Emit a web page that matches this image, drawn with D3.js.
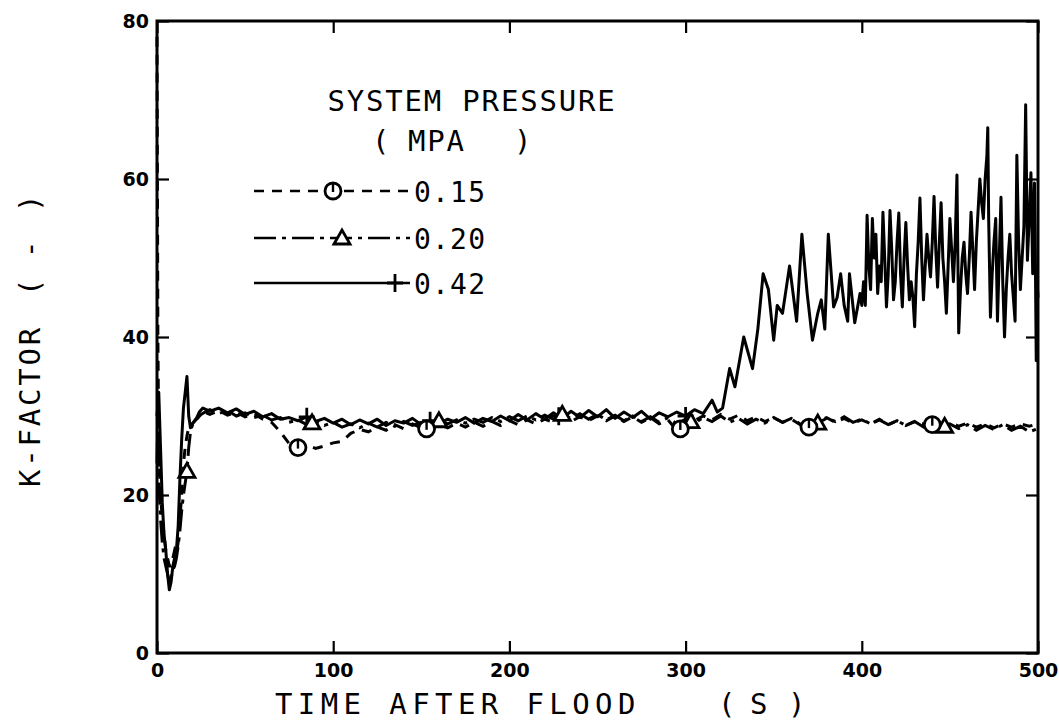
<!DOCTYPE html>
<html>
<head>
<meta charset="utf-8">
<script src="https://cdn.jsdelivr.net/npm/d3@7"></script>
<style>
  body { margin: 0; background: #fff; }
  svg { display: block; }
  .tick text { font-family: "DejaVu Sans", sans-serif; font-weight: bold; font-size: 19px; fill: #000; }
  .plotter { font-family: "DejaVu Sans Mono", monospace; fill: #000; }
</style>
</head>
<body>
<div id="chart"></div>
<script>
// ---- data: [time (s), K-factor] ----
const xTicks = [0, 100, 200, 300, 400, 500];
const yTicks = [0, 20, 40, 60, 80];

const series015 = [
  [0, 78], [0.5, 40], [1, 26], [2, 20], [3, 17], [4, 15], [5, 13], [6, 12], [7, 11], [8, 11],
  [9, 12], [10, 13], [11, 12.5], [12, 14], [13, 17], [14, 20], [15, 24], [16, 26], [17, 27.5],
  [18, 28.5], [20, 29], [22, 29.6], [25, 30], [28, 30.4],
  [30, 30.2], [35, 30.7], [40, 30.1], [45, 30.5], [50, 29.9], [55, 30.3], [60, 29.6], [65, 29.2],
  [70, 28.0], [75, 26.5], [80, 26.0], [85, 26.3], [90, 25.9], [95, 26.2], [100, 26.6], [105, 26.8],
  [110, 27.8], [115, 28.3], [120, 28.0], [125, 28.6], [130, 28.2], [135, 28.9], [140, 28.4],
  [145, 29.0], [150, 28.5], [155, 28.3], [160, 28.9], [165, 28.5], [170, 29.1], [175, 28.6],
  [180, 29.2], [185, 28.7], [190, 29.3], [195, 28.8], [200, 29.4], [205, 28.9], [210, 29.5],
  [215, 29.0], [220, 29.6], [225, 29.2], [230, 29.7], [235, 29.3], [240, 29.9], [245, 29.4],
  [250, 30.0], [255, 29.4], [260, 30.0], [265, 29.3], [270, 29.9], [275, 29.2], [280, 29.8],
  [285, 29.0], [290, 29.5], [295, 28.2], [300, 28.6], [305, 29.4], [310, 30.0], [315, 29.5],
  [320, 30.2], [325, 29.6], [330, 30.1], [335, 29.4], [340, 29.9], [345, 29.3], [350, 29.8],
  [355, 29.2], [360, 29.6], [365, 28.9], [370, 28.6], [375, 29.3], [380, 29.8], [385, 29.2],
  [390, 29.7], [395, 29.1], [400, 29.5], [405, 29.0], [410, 29.6], [415, 28.9], [420, 29.4],
  [425, 28.8], [430, 29.3], [435, 29.0], [440, 28.9], [445, 28.6], [450, 29.2], [455, 28.7],
  [460, 29.1], [465, 28.6], [470, 29.0], [475, 28.5], [480, 29.0], [485, 28.6], [490, 29.0],
  [495, 28.7], [500, 29.0]
];

const series020 = [
  [0, 24], [0.5, 30], [1, 22], [2, 17], [3, 14], [4, 12], [5, 11], [6, 10], [7, 9], [8, 9.5],
  [9, 10.5], [10, 11], [11, 12], [12, 13.5], [13, 15.5], [14, 18], [15, 20], [16, 21.5], [17, 23],
  [18, 26], [19, 28], [20, 28.8], [22, 29.5], [25, 30.2], [28, 30.6],
  [30, 30.8], [35, 30.3], [40, 30.7], [45, 30.0], [50, 30.4], [55, 29.8], [60, 30.1], [65, 29.5],
  [70, 29.8], [75, 29.2], [80, 29.5], [85, 28.9], [90, 29.3], [95, 28.8], [100, 29.2], [105, 28.6],
  [110, 29.0], [115, 28.5], [120, 29.1], [125, 28.6], [130, 29.2], [135, 28.7], [140, 29.3],
  [145, 28.8], [150, 29.2], [155, 28.9], [160, 29.4], [165, 29.0], [170, 29.5], [175, 29.1],
  [180, 29.6], [185, 29.2], [190, 29.8], [195, 29.3], [200, 29.9], [205, 29.4], [210, 30.0],
  [215, 29.5], [220, 30.1], [225, 29.6], [230, 30.2], [235, 29.7], [240, 30.3], [245, 29.6],
  [250, 30.2], [255, 29.5], [260, 30.1], [265, 29.4], [270, 30.0], [275, 29.3], [280, 29.9],
  [285, 29.2], [290, 29.8], [295, 29.0], [300, 29.6], [305, 29.1], [310, 29.8], [315, 29.3],
  [320, 30.0], [325, 29.2], [330, 29.7], [335, 29.0], [340, 29.6], [345, 29.1], [350, 29.8],
  [355, 29.2], [360, 29.7], [365, 29.0], [370, 29.5], [375, 29.1], [380, 29.7], [385, 29.3],
  [390, 29.9], [395, 29.2], [400, 29.6], [405, 29.0], [410, 29.5], [415, 28.9], [420, 29.4],
  [425, 28.8], [430, 29.3], [435, 28.6], [440, 29.4], [445, 28.5], [450, 29.0], [455, 28.4],
  [460, 28.9], [465, 28.2], [470, 28.8], [475, 28.3], [480, 28.9], [485, 28.2], [490, 28.7],
  [495, 28.0], [500, 28.4]
];

const series042 = [
  [0, 30], [1, 33], [2, 26], [3, 19], [4, 15], [5, 13], [6, 10], [7, 8], [8, 9], [9, 11],
  [10, 12], [11, 13], [12, 16], [13, 22], [14, 27], [15, 31], [16, 33], [17, 35], [18, 30],
  [19, 28.5], [20, 29], [22, 29.5], [24, 30.5], [26, 31], [28, 30.8],
  [30, 30.6], [35, 31], [40, 30.4], [45, 30.9], [50, 30.2], [55, 30.6], [60, 29.9], [65, 30.3],
  [70, 29.6], [75, 29.8], [80, 29.4], [85, 29.9], [90, 29.3], [95, 29.7], [100, 29.1], [105, 29.6],
  [110, 28.9], [115, 29.5], [120, 29.0], [125, 29.6], [130, 28.8], [135, 29.4], [140, 29.1],
  [145, 29.7], [150, 28.9], [155, 29.4], [160, 29.0], [165, 29.6], [170, 29.2], [175, 29.8],
  [180, 29.1], [185, 29.7], [190, 29.3], [195, 30.0], [200, 29.4], [205, 30.2], [210, 29.5],
  [215, 30.3], [220, 29.6], [225, 30.4], [230, 29.7], [235, 30.6], [240, 29.8], [245, 30.7],
  [250, 29.9], [255, 30.8], [260, 29.7], [265, 30.5], [270, 29.8], [275, 30.6], [280, 29.6],
  [285, 30.4], [290, 29.9], [295, 30.5], [300, 30.0], [305, 30.8], [310, 30.3], [315, 32],
  [318, 30.5], [321, 31],
  [325, 36], [328, 33.7], [333, 40], [338, 36], [341, 41], [344, 48], [347, 46], [350, 39.6],
  [352, 44], [355, 43], [357, 46], [359, 49], [363, 42], [366, 53], [369, 45.5], [372, 39.6],
  [375, 43], [377, 44.7], [379, 41], [381, 53], [384, 43.8], [386, 45], [388, 48], [390, 44],
  [392, 42], [393, 48], [396, 41.8], [399, 45.5],
  [400, 44], [401, 47], [402, 44], [403, 55.4], [404, 49], [405, 46], [406, 55], [407, 50],
  [408, 53], [409, 45.5], [410, 49], [411, 47], [412, 55.8], [413, 50], [414, 43.8], [415, 48],
  [416, 56], [417, 51], [418, 44.7], [419, 47], [420, 52], [421, 55.7], [422, 48], [423, 43.8],
  [424, 50], [425, 54.5], [426, 49], [427, 44.7], [428, 47], [429, 45], [430, 41.3], [431, 48],
  [432, 52], [433, 57.6], [434, 50], [435, 44.7], [436, 49], [437, 53], [438, 50], [439, 47.6],
  [440, 52], [441, 57.8], [442, 51], [443, 46.3], [444, 52], [445, 57], [446, 50], [447, 47],
  [448, 43], [449, 49], [450, 55], [451, 51], [452, 47], [453, 52], [454, 60.5], [455, 40.5],
  [456, 46], [457, 50], [458, 52], [459, 48], [460, 45.5], [461, 50], [462, 55.8], [463, 51],
  [464, 46], [465, 52], [466, 56], [467, 60], [468, 57], [469, 55], [470, 60], [471, 63],
  [471.5, 66.5], [472, 55], [473, 42.5], [474, 48], [475, 52], [476, 55], [477, 42], [478, 50],
  [479, 57.7], [480, 47], [481, 40], [482, 46], [483, 50], [484, 53], [485, 48], [486, 45],
  [487, 42], [488, 63], [489, 52], [490, 46], [491, 50], [492, 54], [493, 69.4], [494, 49.7],
  [495, 55], [496, 60.8], [497, 48], [498, 59.5], [498.5, 50], [499, 37], [499.5, 47], [500, 45]
];

const markTimes015 = [80, 153, 297, 370, 440];
const markTimes020 = [17, 88, 160, 230, 303, 375, 447];
const markTimes042 = [85, 155, 228, 300];

const legendRows = [
  { label: '0.15', dash: '10,8', marker: 'circle' },
  { label: '0.20', dash: '22,6,4,6', marker: 'triangle' },
  { label: '0.42', dash: null, marker: 'plus' }
];

// ---- layout ----
const width = 1059, height = 721;
const x = d3.scaleLinear().domain([0, 500]).range([157, 1038]);
const y = d3.scaleLinear().domain([0, 80]).range([653, 21]);

const svg = d3.select('#chart').append('svg')
  .attr('width', width)
  .attr('height', height);

// inward ticks on all four sides
svg.append('g')
  .attr('transform', `translate(0,${y(0)})`)
  .call(d3.axisBottom(x).tickValues(xTicks).tickSizeInner(-12).tickSizeOuter(0).tickPadding(11))
  .call(g => g.select('.domain').remove());

svg.append('g')
  .attr('transform', `translate(0,${y(80)})`)
  .call(d3.axisTop(x).tickValues(xTicks).tickSizeInner(-12).tickSizeOuter(0).tickFormat(''))
  .call(g => g.select('.domain').remove());

svg.append('g')
  .attr('transform', `translate(${x(0)},0)`)
  .call(d3.axisLeft(y).tickValues(yTicks).tickSizeInner(-12).tickSizeOuter(0).tickPadding(8))
  .call(g => g.select('.domain').remove());

svg.append('g')
  .attr('transform', `translate(${x(500)},0)`)
  .call(d3.axisRight(y).tickValues(yTicks).tickSizeInner(-12).tickSizeOuter(0).tickFormat(''))
  .call(g => g.select('.domain').remove());

svg.selectAll('.tick line').attr('stroke', '#000').attr('stroke-width', 2.2);

svg.append('rect')
  .attr('x', x(0)).attr('y', y(80))
  .attr('width', x(500) - x(0)).attr('height', y(0) - y(80))
  .attr('fill', 'none').attr('stroke', '#000').attr('stroke-width', 3);

// ---- curves ----
const line = d3.line().x(d => x(d[0])).y(d => y(d[1]));

svg.append('path').datum(series042)
  .attr('d', line).attr('fill', 'none').attr('stroke', '#000')
  .attr('stroke-width', 3).attr('stroke-linejoin', 'round');
svg.append('path').datum(series020)
  .attr('d', line).attr('fill', 'none').attr('stroke', '#000')
  .attr('stroke-width', 3).attr('stroke-dasharray', '22,6,4,6');
svg.append('path').datum(series015)
  .attr('d', line).attr('fill', 'none').attr('stroke', '#000')
  .attr('stroke-width', 3).attr('stroke-dasharray', '10,8');

function valueAt(series, t) {
  const i = d3.bisector(d => d[0]).left(series, t);
  if (i <= 0) return series[0][1];
  if (i >= series.length) return series[series.length - 1][1];
  const a = series[i - 1], b = series[i];
  return a[1] + (b[1] - a[1]) * (t - a[0]) / (b[0] - a[0]);
}

function drawMarker(g, kind, cx, cy) {
  if (kind === 'circle') {
    g.append('circle').attr('cx', cx).attr('cy', cy).attr('r', 8)
      .attr('fill', '#fff').attr('stroke', '#000').attr('stroke-width', 2.8);
    g.append('line').attr('x1', cx).attr('x2', cx).attr('y1', cy - 8).attr('y2', cy + 1)
      .attr('stroke', '#000').attr('stroke-width', 2.4);
  } else if (kind === 'triangle') {
    g.append('path')
      .attr('d', `M${cx - 8},${cy + 6}L${cx},${cy - 8}L${cx + 8},${cy + 6}Z`)
      .attr('fill', '#fff').attr('stroke', '#000').attr('stroke-width', 2.8);
  } else {
    g.append('path')
      .attr('d', `M${cx - 8},${cy}H${cx + 8}M${cx},${cy - 9}V${cy + 9}`)
      .attr('stroke', '#000').attr('stroke-width', 2.8);
  }
}

const markers = svg.append('g');
markTimes042.forEach(t => drawMarker(markers, 'plus', x(t), y(valueAt(series042, t))));
markTimes020.forEach(t => drawMarker(markers, 'triangle', x(t), y(valueAt(series020, t))));
markTimes015.forEach(t => drawMarker(markers, 'circle', x(t), y(valueAt(series015, t))));

// ---- legend ----
const legend = svg.append('g');
legend.append('text').attr('class', 'plotter')
  .attr('x', 472).attr('y', 111).attr('text-anchor', 'middle')
  .attr('font-size', 29).attr('letter-spacing', 1.8)
  .text('SYSTEM PRESSURE');
[['(', 372], ['MPA', 408], [')', 514]].forEach(([s, px]) => {
  legend.append('text').attr('class', 'plotter')
    .attr('x', px).attr('y', 151)
    .attr('font-size', 29).attr('letter-spacing', 1.8)
    .text(s);
});

const rowY = [191, 238, 283];
const markerX = [333, 342, 395];
legendRows.forEach((r, i) => {
  const ly = rowY[i];
  const seg = legend.append('line')
    .attr('x1', 254).attr('x2', 410).attr('y1', ly).attr('y2', ly)
    .attr('stroke', '#000').attr('stroke-width', 2.4);
  if (r.dash) seg.attr('stroke-dasharray', r.dash);
  drawMarker(legend, r.marker, markerX[i], ly);
  legend.append('text').attr('class', 'plotter')
    .attr('x', 414).attr('y', ly + 11)
    .attr('font-size', 28).attr('letter-spacing', 1.2)
    .text(r.label);
});

// ---- axis titles ----
svg.append('text').attr('class', 'plotter')
  .attr('x', 275).attr('y', 714)
  .attr('font-size', 29).attr('letter-spacing', 5.4)
  .text('TIME AFTER FLOOD');
[['(', 718], ['S', 750], [')', 788]].forEach(([s, px]) => {
  svg.append('text').attr('class', 'plotter')
    .attr('x', px).attr('y', 714).attr('font-size', 29).text(s);
});

const yTitle = svg.append('g').attr('transform', 'translate(40,0) rotate(-90)');
yTitle.append('text').attr('class', 'plotter')
  .attr('x', -487).attr('y', 0)
  .attr('font-size', 29).attr('letter-spacing', 2.8)
  .text('K-FACTOR');
[['(', -296], ['-', -258], [')', -212]].forEach(([s, py]) => {
  yTitle.append('text').attr('class', 'plotter')
    .attr('x', py).attr('y', 0).attr('font-size', 29).text(s);
});
</script>
</body>
</html>
